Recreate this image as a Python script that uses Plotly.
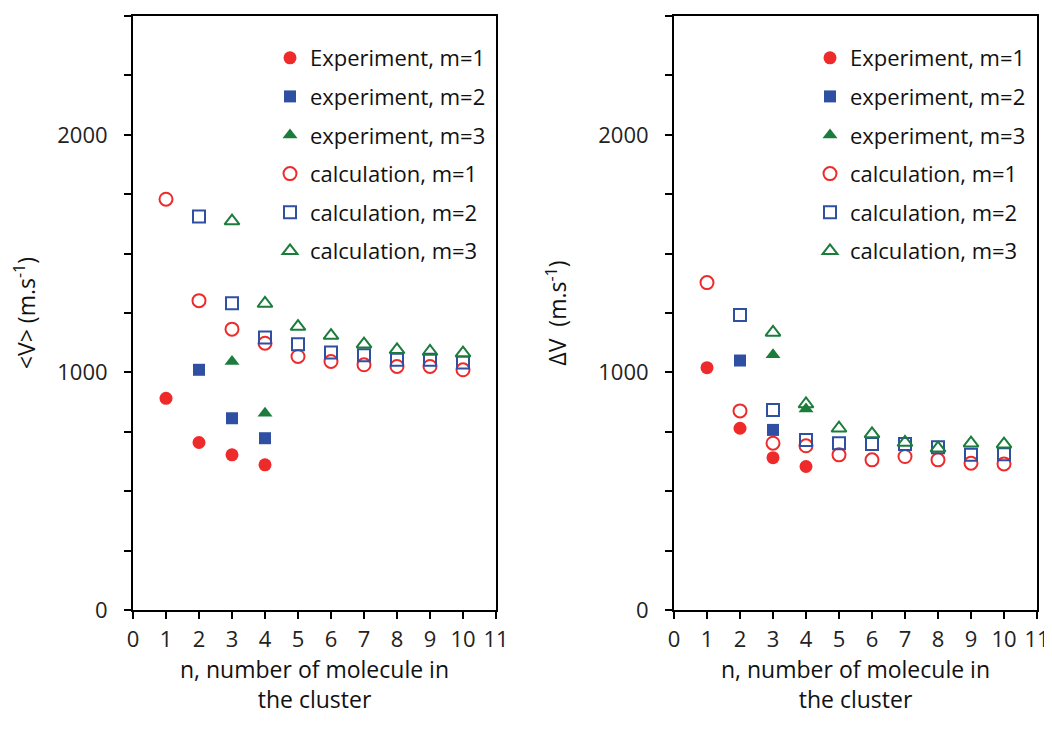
import plotly.graph_objects as go

n = [1, 2, 3, 4, 5, 6, 7, 8, 9, 10]

# Left panel: <V>
v_exp_m1 = [891, 705, 653, 611]
v_exp_m2 = [1011, 807, 723]
v_exp_m3 = [1046, 828]
v_calc_m1 = [1729, 1302, 1182, 1123, 1067, 1046, 1032, 1025, 1025, 1011]
v_calc_m2 = [1656, 1291, 1147, 1119, 1084, 1072, 1053, 1053, 1042]
v_calc_m3 = [1637, 1290, 1193, 1155, 1119, 1095, 1088, 1081]

# Right panel: ΔV
d_exp_m1 = [1020, 765, 641, 604]
d_exp_m2 = [1050, 758]
d_exp_m3 = [1074, 846]
d_calc_m1 = [1378, 838, 702, 691, 653, 632, 646, 632, 618, 615]
d_calc_m2 = [1242, 842, 716, 702, 699, 699, 685, 653, 656]
d_calc_m3 = [1168, 867, 765, 741, 705, 681, 702, 698]

labels = ["Experiment, m=1", "experiment, m=2", "experiment, m=3",
          "calculation, m=1", "calculation, m=2", "calculation, m=3"]

x_ticks = list(range(0, 12))
y_tickvals = [0, 250, 500, 750, 1000, 1250, 1500, 1750, 2000, 2250, 2500]
y_ticktext = ["0", "", "", "", "1000", "", "", "", "2000", "", ""]

RED = "#EE2A2A"
BLUE = "#2E4FA2"
GREEN = "#1B7C3B"
FONT = "Open Sans"

fig = go.Figure()

def add_panel(side, xa, ya, leg, exp1, exp2, exp3, c1, c2, c3):
    specs = [
        (n[0:len(exp1)], exp1, "circle", RED, True),
        (n[1:1 + len(exp2)], exp2, "square", BLUE, True),
        (n[2:2 + len(exp3)], exp3, "triangle-up", GREEN, True),
        (n[0:len(c1)], c1, "circle-open", RED, False),
        (n[1:1 + len(c2)], c2, "square-open", BLUE, False),
        (n[2:2 + len(c3)], c3, "triangle-up-open", GREEN, False),
    ]
    for i, (xs, ys, sym, col, filled) in enumerate(specs):
        size = 12
        if "circle" in sym:
            size = 13
        if "triangle" in sym:
            size = 13
        fig.add_trace(go.Scatter(
            x=xs, y=ys, mode="markers", name=labels[i],
            xaxis=xa, yaxis=ya, legend=leg, legendgroup=f"{side}{i}",
            marker=dict(symbol=sym, color=col, size=size,
                        line=dict(color=col, width=2 if not filled else 0)),
        ))

add_panel("L", "x", "y", "legend", v_exp_m1, v_exp_m2, v_exp_m3, v_calc_m1, v_calc_m2, v_calc_m3)
add_panel("R", "x2", "y2", "legend2", d_exp_m1, d_exp_m2, d_exp_m3, d_calc_m1, d_calc_m2, d_calc_m3)

# page body has an 8px margin; figure coordinates = screen coordinates - 8
W, H = 1044, 736
OFF = 8
def px_x(p):
    return (p - OFF) / W
def px_y(p):
    return 1 - (p - OFF) / H

ydom = [px_y(610), px_y(16)]

xaxis_common = dict(
    range=[0, 11], tickvals=x_ticks, ticktext=[str(t) for t in x_ticks],
    ticks="outside", ticklen=7, tickwidth=2, tickcolor="black",
    showline=True, linecolor="black", linewidth=2, mirror=True,
    showgrid=False, zeroline=False, ticklabelstandoff=2,
    tickfont=dict(family=FONT, size=22, color="#222"),
    title=dict(text="n, number of molecule in<br>the cluster",
               font=dict(family=FONT, size=23, color="#111"), standoff=8),
    automargin=False,
)
yaxis_common = dict(
    range=[0, 2500], tickvals=y_tickvals, ticktext=y_ticktext,
    ticks="outside", ticklen=7, tickwidth=2, tickcolor="black",
    showline=True, linecolor="black", linewidth=2, mirror=True,
    showgrid=False, zeroline=False, ticklabelstandoff=12,
    tickfont=dict(family=FONT, size=22, color="#222"),
    automargin=False, domain=ydom,
)

legend_common = dict(xanchor="left", yanchor="top", bgcolor="rgba(0,0,0,0)",
                     font=dict(family=FONT, size=22, color="#111"),
                     tracegroupgap=7, itemwidth=30)

fig.update_layout(
    width=W, height=H,
    margin=dict(l=0, r=0, t=0, b=0),
    paper_bgcolor="white", plot_bgcolor="white",
    xaxis=dict(xaxis_common, domain=[px_x(133), px_x(496)], anchor="y"),
    yaxis=dict(yaxis_common, anchor="x",
               title=dict(text="<V> (m.s<sup>-1</sup>)",
                          font=dict(family=FONT, size=23, color="#111"), standoff=16)),
    xaxis2=dict(xaxis_common, domain=[px_x(674), px_x(1037)], anchor="y2"),
    yaxis2=dict(yaxis_common, anchor="x2",
                title=dict(text="ΔV  (m.s<sup>-1</sup>)",
                           font=dict(family=FONT, size=23, color="#111"), standoff=25)),
    legend=dict(legend_common, x=px_x(270), y=px_y(37)),
    legend2=dict(legend_common, x=px_x(810), y=px_y(37)),
    showlegend=True,
)

fig.write_html("out.html")
